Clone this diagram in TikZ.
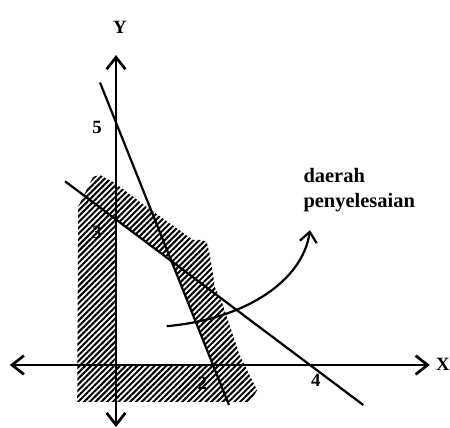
\documentclass[tikz,border=0pt]{standalone}
\usepackage{fontspec}
\setmainfont{Liberation Serif}
\usetikzlibrary{arrows.meta,patterns.meta}

\begin{document}
\begin{tikzpicture}[x=1cm,y=1cm,font=\fontsize{11}{13}\selectfont\bfseries,
  axisline/.style={line width=1.6pt,{Straight Barb[length=7pt,width=11pt]}-{Straight Barb[length=7pt,width=11pt]}},
  boundline/.style={line width=1.3pt},
  numlabel/.style={inner sep=0pt}]
  \useasboundingbox (-2.392,-1.299) rectangle (6.887,7.526);
  \pattern[pattern={Lines[angle=45,distance=2.4pt,line width=1.2pt]},even odd rule]
    (-0.80,-0.76) -- (-0.78,3.26) -- (-0.47,3.88) -- (-0.33,3.92) -- (-0.02,3.75)
    -- (0.63,3.26) -- (1.11,2.92) -- (1.59,2.58) -- (1.73,2.58) -- (1.87,2.54)
    -- (1.94,2.25) -- (2.04,1.60) -- (2.20,1.25) -- (2.55,0.20) -- (2.91,-0.52)
    -- (2.76,-0.76) -- cycle
    (0,0) -- (2,0) -- (8/7,15/7) -- (0,3) -- cycle;
  \draw[axisline] (-2.19,0) -- (6.47,0);
  \draw[axisline] (0,-1.28) -- (0,6.39);
  \node[numlabel,anchor=east] (xlabel) at (6.887,0.02) {X};
  \node[numlabel] (ylabel) at (0.08,6.97) {Y};
  \draw[boundline] (-0.33,5.825) -- (2.33,-0.825);
  \draw[boundline] (-1.05,3.7875) -- (5.10,-0.825);
  \node[numlabel] (lbl5) at (-0.39,4.89) {5};
  \node[numlabel] (lbl3) at (-0.39,2.74) {3};
  \node[numlabel] (lbl2) at (1.78,-0.38) {2};
  \node[numlabel] (lbl4) at (4.12,-0.31) {4};
  \node[anchor=north west,inner sep=0pt,align=left,
    font=\fontsize{12}{14.7}\selectfont\bfseries] (note) at (3.86,4.06)
    {daerah\\penyelesaian};
  \coordinate (arrowfrom) at (1.045,0.80);
  \coordinate (arrowto) at (4.0,2.78);
  \draw[line width=1.3pt,-{Straight Barb[length=6pt,width=10pt]}]
    (arrowfrom) .. controls (2.7,0.95) and (3.85,1.75) .. (arrowto);
\end{tikzpicture}
\end{document}
